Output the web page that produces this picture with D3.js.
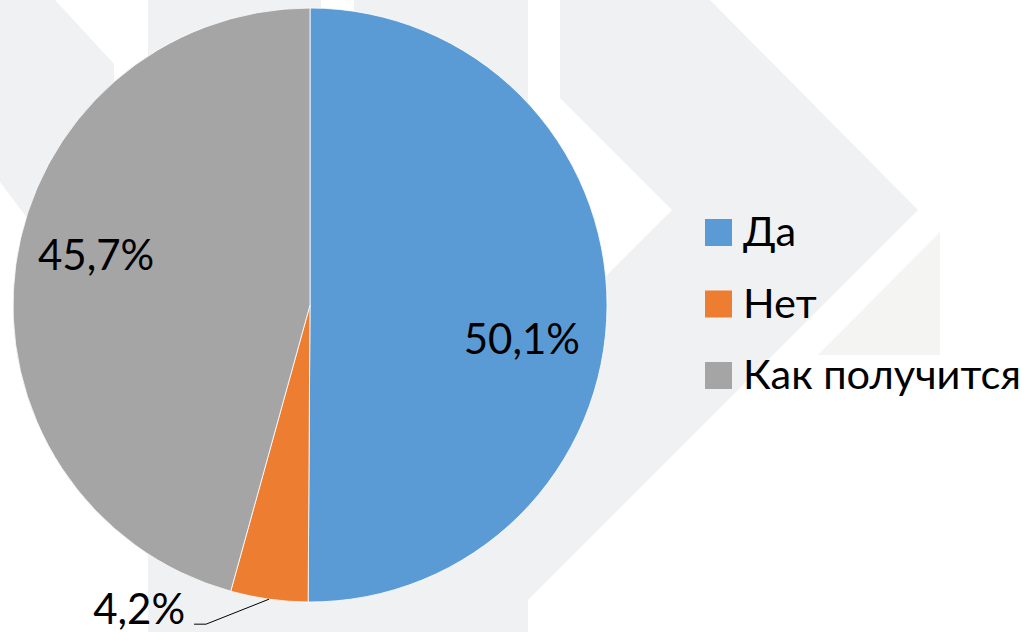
<!DOCTYPE html>
<html>
<head>
<meta charset="utf-8">
<script src="https://cdn.jsdelivr.net/npm/d3@7"></script>
<style>
    body { margin: 0; background: #fff; }
    svg { display: block; font-family: Lato, "Open Sans", sans-serif; }
</style>
</head>
<body>
<div id="chart"></div>
<script>
    // Данные опроса
    const categories = ["Да", "Нет", "Как получится"];
    const values = [50.1, 4.2, 45.7];
    const labels = ["50,1%", "4,2%", "45,7%"];
    const colors = ["#5B9BD5", "#ED7D31", "#A5A5A5"];

    const width = 1033;
    const height = 632;
    const cx = 310, cy = 305, radius = 297;

    const svg = d3.select("#chart")
        .append("svg")
        .attr("width", width)
        .attr("height", height);

    // Фоновый водяной знак (светлые шевроны)
    const bg = svg.append("g");
    const wm = "#F0F1F3";
    const shapes = [
        [[0, 0], [55, 0], [114, 64], [114, 333], [0, 182]],
        [[148, 0], [321, 0], [321, 632], [148, 632]],
        [[354, 0], [528, 0], [528, 632], [354, 632]],
        [[321, 20], [354, 20], [354, 632], [321, 632]],
        [[560, 0], [710, 0], [918, 210], [496, 632], [250, 632], [672, 210], [560, 98]]
    ];
    bg.selectAll("polygon.wm")
        .data(shapes)
        .enter()
        .append("polygon")
        .attr("class", "wm")
        .attr("points", d => d.map(p => p.join(",")).join(" "))
        .attr("fill", wm);
    bg.append("polygon")
        .attr("points", "940,232 940,355 818,355")
        .attr("fill", "#F4F4F2");

    const data = categories.map((c, i) => ({ name: c, value: values[i], label: labels[i], color: colors[i] }));

    const pie = d3.pie().sort(null).value(d => d.value);
    const arc = d3.arc().innerRadius(0).outerRadius(radius);
    const labelArc = d3.arc().innerRadius(radius * 0.72).outerRadius(radius * 0.72);
    const edgeArc = d3.arc().innerRadius(radius).outerRadius(radius);

    const g = svg.append("g")
        .attr("transform", `translate(${cx},${cy})`);

    const arcs = pie(data);

    g.selectAll("path")
        .data(arcs)
        .enter()
        .append("path")
        .attr("d", arc)
        .attr("fill", d => d.data.color)
        .attr("stroke", "#fff")
        .attr("stroke-width", 0.8);

    // Подписи внутри секторов (со сдвигом как в Excel)
    const nudge = { "Да": [-2, 48], "Как получится": [-2, -6] };
    g.selectAll("text.inside")
        .data(arcs.filter(d => d.data.name !== "Нет"))
        .enter()
        .append("text")
        .attr("class", "inside")
        .attr("x", d => labelArc.centroid(d)[0] + nudge[d.data.name][0])
        .attr("y", d => labelArc.centroid(d)[1] + nudge[d.data.name][1])
        .attr("text-anchor", "middle")
        .style("font-size", "42px")
        .style("fill", "#000")
        .text(d => d.data.label);

    // Маленький сектор: подпись снаружи с выноской
    const small = arcs.find(d => d.data.name === "Нет");
    const p0 = edgeArc.centroid(small);
    const p1 = [p0[0] - 63, p0[1] + 25];
    const p2 = [p1[0] - 12, p1[1]];
    g.append("polyline")
        .attr("points", [p0, p1, p2].map(p => p.join(",")).join(" "))
        .attr("fill", "none")
        .attr("stroke", "#000")
        .attr("stroke-width", 1);
    g.append("text")
        .attr("x", p2[0] - 9)
        .attr("y", p2[1])
        .attr("text-anchor", "end")
        .style("font-size", "42px")
        .style("fill", "#000")
        .text(small.data.label);

    // Легенда
    const legend = svg.append("g")
        .attr("transform", "translate(705,219)");
    const item = legend.selectAll("g")
        .data(data)
        .enter()
        .append("g")
        .attr("transform", (d, i) => `translate(0,${i * 71.5})`);
    item.append("rect")
        .attr("width", 27)
        .attr("height", 27)
        .attr("fill", d => d.color);
    item.append("text")
        .attr("x", 38)
        .attr("y", 27)
        .style("font-size", "41.5px")
        .style("fill", "#000")
        .text(d => d.name);
</script>
</body>
</html>
